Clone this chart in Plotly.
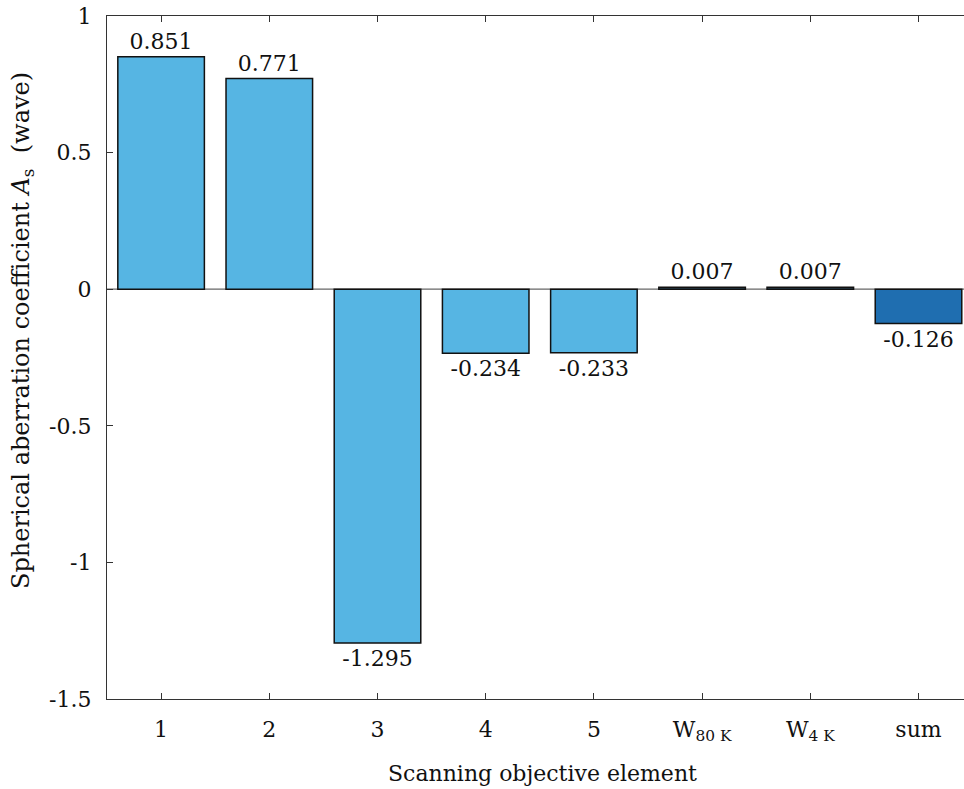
import plotly.graph_objects as go

# Spherical aberration contribution of each scanning objective element
categories = ["1", "2", "3", "4", "5", "W<sub>80 K</sub>", "W<sub>4 K</sub>", "sum"]
values = [0.851, 0.771, -1.295, -0.234, -0.233, 0.007, 0.007, -0.126]
bar_colors = ["#56B5E3", "#56B5E3", "#56B5E3", "#56B5E3", "#56B5E3",
              "#2A4A5E", "#2A4A5E", "#1F6EB0"]
y_ticks = [-1.5, -1.0, -0.5, 0.0, 0.5, 1.0]

FONT = "DejaVu Serif"
W, H = 964, 789
ML, MT, MB = 107, 16, 90

positions = list(range(1, len(categories) + 1))
labels = [f"{v:.3f}" for v in values]

fig = go.Figure()
fig.add_trace(go.Bar(
    x=positions,
    y=values,
    width=0.8,
    marker=dict(color=bar_colors, line=dict(color="#111111", width=1.5)),
    text=labels,
    textposition="outside",
    textfont=dict(family=FONT, size=22, color="#111111"),
    cliponaxis=False,
    constraintext="none",
))

# zero baseline
fig.add_hline(y=0, line=dict(color="#666666", width=1.2), layer="below")

axis_common = dict(
    showline=True, linecolor="#333333", linewidth=1.2,
    ticks="inside", ticklen=6, tickcolor="#333333", tickwidth=1.2,
    showgrid=False, zeroline=False,
    tickfont=dict(family=FONT, size=22, color="#111111"),
)

plot_w = W - ML
unit_px = 108.2
fig.update_xaxes(
    **axis_common,
    range=[0.5, 0.5 + plot_w / unit_px],
    tickvals=positions, ticktext=categories,
    mirror="ticks",
    ticklabelstandoff=10,
)
fig.update_yaxes(
    **axis_common,
    range=[-1.5, 1.0],
    tickvals=y_ticks, ticktext=[f"{v:g}" for v in y_ticks],
    mirror=False,
    ticklabelstandoff=10,
)

plot_h = H - MT - MB
fig.add_annotation(
    text="Spherical aberration coefficient <i>A</i><sub>s</sub>\u00a0\u00a0(wave)",
    xref="paper", yref="paper",
    x=(22 - ML) / plot_w, y=(H - MB - 331) / plot_h,
    xanchor="center", yanchor="middle",
    textangle=-90, showarrow=False,
    font=dict(family=FONT, size=24, color="#111111"),
)
fig.add_annotation(
    text="Scanning objective element",
    xref="paper", yref="paper",
    x=(542 - ML) / plot_w, y=-(773 - (H - MB)) / plot_h,
    xanchor="center", yanchor="middle",
    showarrow=False,
    font=dict(family=FONT, size=22, color="#111111"),
)

fig.update_layout(
    width=W, height=H,
    margin=dict(l=ML, r=0, t=MT, b=MB),
    paper_bgcolor="white", plot_bgcolor="white",
    showlegend=False,
    bargap=0.2,
)

fig.write_html("out.html")
